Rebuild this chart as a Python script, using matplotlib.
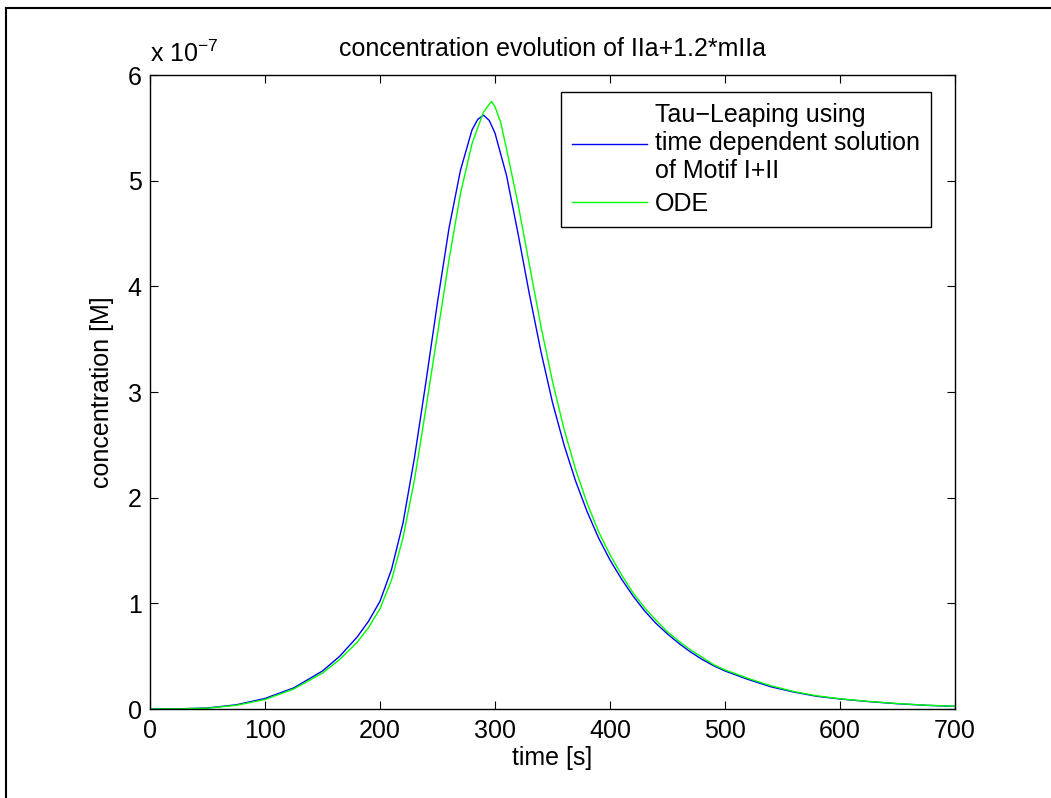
import numpy as np
import matplotlib
matplotlib.use('Agg')
import matplotlib.pyplot as plt
from matplotlib.lines import Line2D

plt.rcParams['font.family'] = ['Liberation Sans', 'DejaVu Sans']
plt.rcParams['mathtext.fontset'] = 'custom'
plt.rcParams['mathtext.rm'] = 'Liberation Sans'
plt.rcParams['mathtext.it'] = 'Liberation Sans'

# time [s] and concentration (in units of 1e-7 M)
t_tau = [0, 25, 50, 75, 100, 125, 150, 165, 180, 190, 200, 210, 220, 230, 240,
         250, 260, 270, 280, 285, 290, 295, 300, 310, 320, 330, 340, 350, 360,
         370, 380, 390, 400, 410, 420, 430, 440, 450, 460, 470, 480, 490, 500,
         520, 540, 560, 580, 600, 625, 650, 675, 700]
c_tau = [0, 0.002, 0.01, 0.04, 0.1, 0.2, 0.36, 0.5, 0.68, 0.83, 1.02, 1.32,
         1.76, 2.38, 3.1, 3.85, 4.55, 5.1, 5.48, 5.58, 5.62, 5.57, 5.45, 5.05,
         4.5, 3.92, 3.38, 2.9, 2.5, 2.16, 1.87, 1.62, 1.41, 1.23, 1.07, 0.93,
         0.81, 0.71, 0.62, 0.54, 0.47, 0.41, 0.36, 0.28, 0.21, 0.16, 0.12,
         0.095, 0.07, 0.05, 0.035, 0.025]

t_ode = [0, 25, 50, 75, 100, 125, 150, 165, 180, 190, 200, 210, 220, 230, 240,
         250, 260, 270, 280, 290, 297, 300, 305, 310, 320, 330, 340, 350, 360,
         370, 380, 390, 400, 410, 420, 430, 440, 450, 460, 470, 480, 490, 500,
         520, 540, 560, 580, 600, 625, 650, 675, 700]
c_ode = [0, 0.001, 0.008, 0.035, 0.09, 0.19, 0.34, 0.47, 0.63, 0.77, 0.95, 1.22,
         1.62, 2.17, 2.85, 3.55, 4.25, 4.88, 5.35, 5.65, 5.75, 5.7, 5.55, 5.3,
         4.78, 4.2, 3.62, 3.1, 2.65, 2.27, 1.95, 1.68, 1.46, 1.27, 1.1, 0.96,
         0.84, 0.73, 0.64, 0.56, 0.49, 0.42, 0.37, 0.29, 0.22, 0.165, 0.125,
         0.097, 0.072, 0.052, 0.036, 0.026]

scale = 1e-7
fs = 18

fig = plt.figure(figsize=(10.51, 7.98), dpi=100)
ax = fig.add_axes([0.1427, 0.1115, 0.766, 0.7945])

ax.plot(t_tau, np.array(c_tau) * scale, color='#0000ff', lw=1.0,
        label='Tau\u2212Leaping using\ntime dependent solution\nof Motif I+II')
ax.plot(t_ode, np.array(c_ode) * scale, color='#00ff00', lw=1.0, label='ODE')

ax.set_xlim(0, 700)
ax.set_ylim(0, 6e-7)
ax.set_xticks(range(0, 701, 100))
ax.set_yticks(np.arange(0, 7) * scale)
ax.set_yticklabels([str(i) for i in range(7)])
ax.tick_params(direction='in', top=True, right=True, length=6, width=0.8,
               labelsize=fs)
ax.tick_params(axis='x', pad=7)
ax.tick_params(axis='y', pad=6)
for s in ax.spines.values():
    s.set_linewidth(1.0)

ax.text(0, 1.012, r'x 10$^{\mathrm{-7}}$', transform=ax.transAxes,
        fontsize=fs, ha='left', va='bottom')
ax.set_title('concentration evolution of IIa+1.2*mIIa', fontsize=fs, pad=14)
ax.set_xlabel('time [s]', fontsize=fs, labelpad=2)
ax.set_ylabel('concentration [M]', fontsize=fs, labelpad=10)

leg = ax.legend(loc='upper right', bbox_to_anchor=(0.970, 0.973),
                borderaxespad=0, fontsize=fs, handlelength=3.0,
                handletextpad=0.3, borderpad=0.45, labelspacing=0.35,
                fancybox=False, framealpha=1)
leg.get_frame().set_edgecolor('black')
leg.get_frame().set_linewidth(1.0)

# outer figure frame (left and top edges)
fig.add_artist(Line2D([6 / 1051, 6 / 1051], [0, 1 - 7.5 / 798],
                      color='black', lw=1.5, transform=fig.transFigure))
fig.add_artist(Line2D([6 / 1051, 1], [1 - 7.5 / 798, 1 - 7.5 / 798],
                      color='black', lw=1.5, transform=fig.transFigure))

fig.savefig('out.png', dpi=100)
